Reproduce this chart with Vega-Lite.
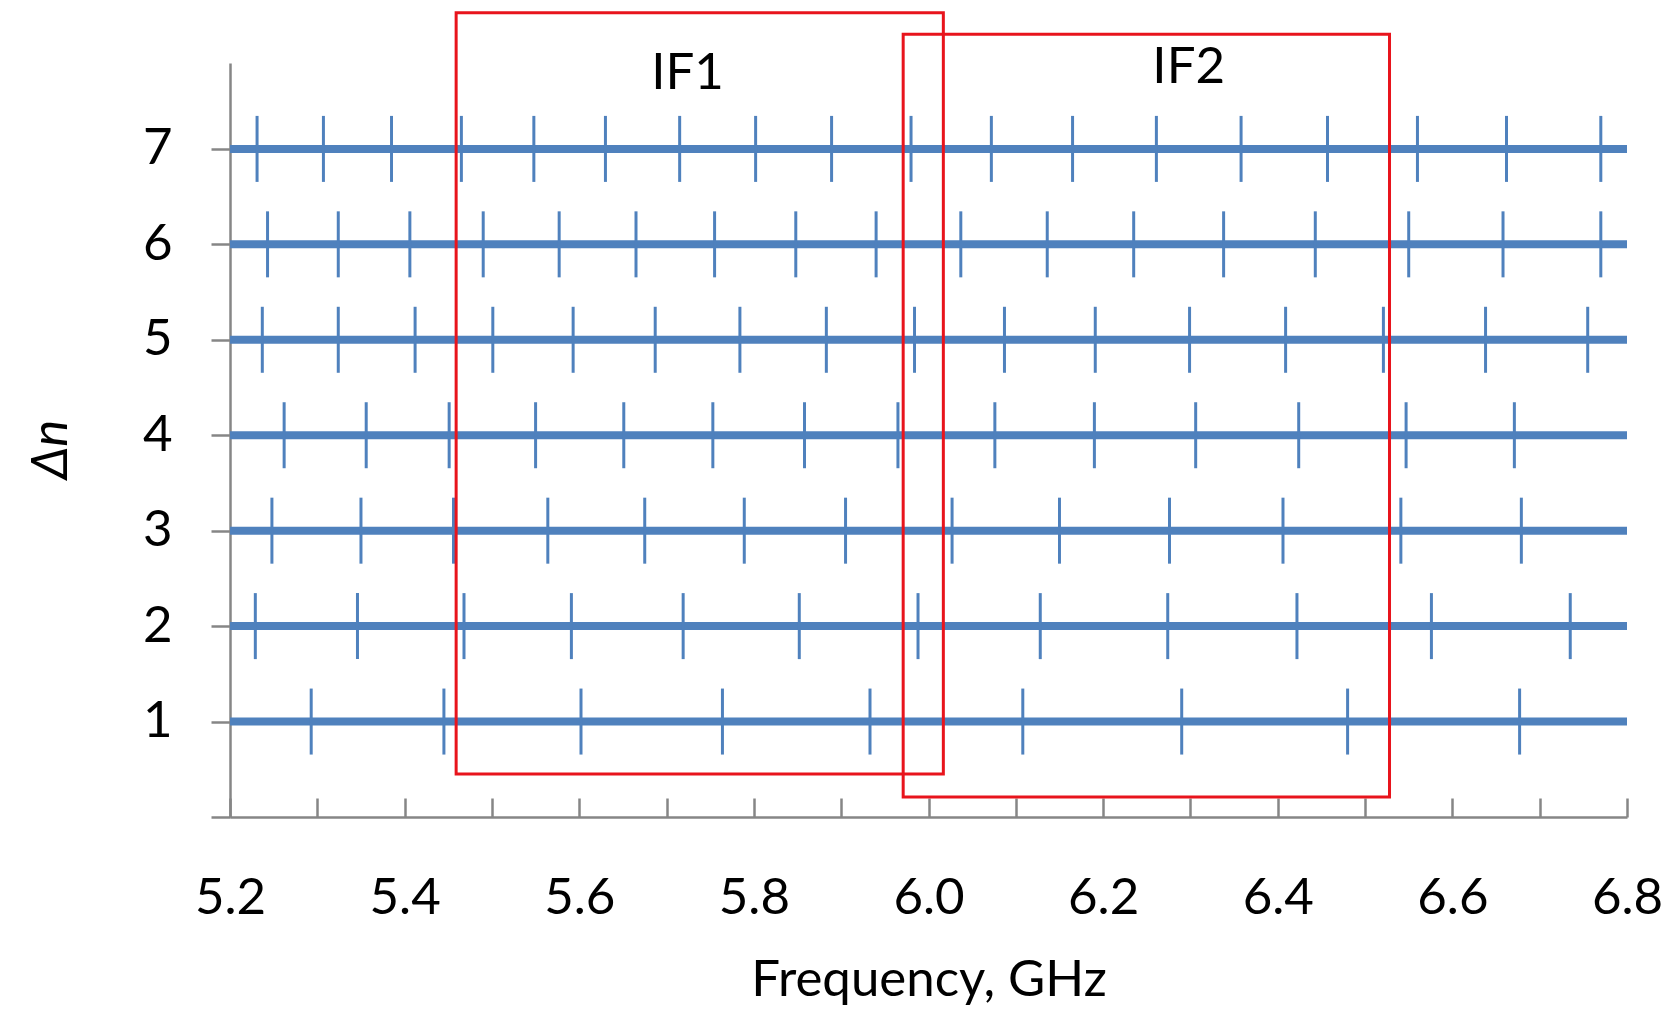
{
  "$schema": "https://vega.github.io/schema/vega-lite/v6.json",
  "width": 1397,
  "height": 754,
  "autosize": {"type": "none"},
  "padding": {"left": 230, "top": 63, "right": 48, "bottom": 198},
  "background": "white",
  "config": {
    "view": {"stroke": null},
    "font": "Lato",
    "axis": {
      "grid": false,
      "domainColor": "#868686",
      "domainWidth": 2.5,
      "tickColor": "#868686",
      "tickWidth": 2.5,
      "labelFont": "Lato",
      "labelFontSize": 51,
      "labelColor": "#000000",
      "titleFont": "Lato",
      "titleFontSize": 51,
      "titleFontWeight": "normal",
      "titleColor": "#000000"
    }
  },
  "datasets": {
    "rows": [
      {"dn": 1}, {"dn": 2}, {"dn": 3}, {"dn": 4}, {"dn": 5}, {"dn": 6}, {"dn": 7}
    ],
    "marks": [
      {"dn": 7, "f": 5.231}, {"dn": 7, "f": 5.307}, {"dn": 7, "f": 5.385}, {"dn": 7, "f": 5.465}, {"dn": 7, "f": 5.548}, {"dn": 7, "f": 5.630}, {"dn": 7, "f": 5.715}, {"dn": 7, "f": 5.802}, {"dn": 7, "f": 5.889}, {"dn": 7, "f": 5.980}, {"dn": 7, "f": 6.072}, {"dn": 7, "f": 6.165}, {"dn": 7, "f": 6.261}, {"dn": 7, "f": 6.358}, {"dn": 7, "f": 6.457}, {"dn": 7, "f": 6.560}, {"dn": 7, "f": 6.662}, {"dn": 7, "f": 6.770},
      {"dn": 6, "f": 5.243}, {"dn": 6, "f": 5.324}, {"dn": 6, "f": 5.406}, {"dn": 6, "f": 5.490}, {"dn": 6, "f": 5.577}, {"dn": 6, "f": 5.665}, {"dn": 6, "f": 5.755}, {"dn": 6, "f": 5.848}, {"dn": 6, "f": 5.940}, {"dn": 6, "f": 6.037}, {"dn": 6, "f": 6.136}, {"dn": 6, "f": 6.235}, {"dn": 6, "f": 6.338}, {"dn": 6, "f": 6.443}, {"dn": 6, "f": 6.550}, {"dn": 6, "f": 6.658}, {"dn": 6, "f": 6.770},
      {"dn": 5, "f": 5.237}, {"dn": 5, "f": 5.324}, {"dn": 5, "f": 5.412}, {"dn": 5, "f": 5.501}, {"dn": 5, "f": 5.593}, {"dn": 5, "f": 5.687}, {"dn": 5, "f": 5.784}, {"dn": 5, "f": 5.883}, {"dn": 5, "f": 5.984}, {"dn": 5, "f": 6.087}, {"dn": 5, "f": 6.191}, {"dn": 5, "f": 6.299}, {"dn": 5, "f": 6.409}, {"dn": 5, "f": 6.521}, {"dn": 5, "f": 6.638}, {"dn": 5, "f": 6.755},
      {"dn": 4, "f": 5.262}, {"dn": 4, "f": 5.356}, {"dn": 4, "f": 5.451}, {"dn": 4, "f": 5.550}, {"dn": 4, "f": 5.651}, {"dn": 4, "f": 5.753}, {"dn": 4, "f": 5.858}, {"dn": 4, "f": 5.965}, {"dn": 4, "f": 6.076}, {"dn": 4, "f": 6.190}, {"dn": 4, "f": 6.306}, {"dn": 4, "f": 6.424}, {"dn": 4, "f": 6.547}, {"dn": 4, "f": 6.671},
      {"dn": 3, "f": 5.248}, {"dn": 3, "f": 5.350}, {"dn": 3, "f": 5.456}, {"dn": 3, "f": 5.564}, {"dn": 3, "f": 5.675}, {"dn": 3, "f": 5.789}, {"dn": 3, "f": 5.905}, {"dn": 3, "f": 6.027}, {"dn": 3, "f": 6.150}, {"dn": 3, "f": 6.276}, {"dn": 3, "f": 6.406}, {"dn": 3, "f": 6.541}, {"dn": 3, "f": 6.679},
      {"dn": 2, "f": 5.229}, {"dn": 2, "f": 5.346}, {"dn": 2, "f": 5.468}, {"dn": 2, "f": 5.591}, {"dn": 2, "f": 5.719}, {"dn": 2, "f": 5.852}, {"dn": 2, "f": 5.988}, {"dn": 2, "f": 6.128}, {"dn": 2, "f": 6.274}, {"dn": 2, "f": 6.422}, {"dn": 2, "f": 6.576}, {"dn": 2, "f": 6.735},
      {"dn": 1, "f": 5.293}, {"dn": 1, "f": 5.445}, {"dn": 1, "f": 5.602}, {"dn": 1, "f": 5.764}, {"dn": 1, "f": 5.933}, {"dn": 1, "f": 6.108}, {"dn": 1, "f": 6.290}, {"dn": 1, "f": 6.480}, {"dn": 1, "f": 6.677}
    ],
    "boxes": [
      {"name": "IF1", "f1": 5.459, "f2": 6.017, "y1": 0.45, "y2": 8.427, "lx": 5.724, "ly": 7.631},
      {"name": "IF2", "f1": 5.971, "f2": 6.528, "y1": 0.21, "y2": 8.201, "lx": 6.298, "ly": 7.694}
    ]
  },
  "layer": [
    {
      "data": {"name": "rows"},
      "mark": {"type": "rule", "color": "#4F81BD", "strokeWidth": 8, "strokeCap": "butt"},
      "encoding": {
        "y": {
          "field": "dn",
          "type": "quantitative",
          "scale": {"domain": [0, 7.9], "nice": false, "zero": true},
          "axis": {
            "values": [0, 1, 2, 3, 4, 5, 6, 7],
            "labelExpr": "datum.value == 0 ? '' : format(datum.value, 'd')",
            "tickSize": 19,
            "labelPadding": 39,
            "title": "Δn",
            "titleFontStyle": "italic",
            "titleBaseline": "alphabetic",
            "titleAlign": "center",
            "titleAngle": -90,
            "titleX": -164,
            "titleY": 386
          }
        }
      }
    },
    {
      "data": {"name": "marks"},
      "mark": {"type": "tick", "orient": "vertical", "color": "#4F81BD", "size": 66, "thickness": 3, "opacity": 1},
      "encoding": {
        "x": {
          "field": "f",
          "type": "quantitative",
          "scale": {"domain": [5.2, 6.8], "nice": false, "zero": false},
          "axis": {
            "values": [5.2, 5.3, 5.4, 5.5, 5.6, 5.7, 5.8, 5.9, 6.0, 6.1, 6.2, 6.3, 6.4, 6.5, 6.6, 6.7, 6.8],
            "labelExpr": "round(datum.value * 10) % 2 == 0 ? format(datum.value, '.1f') : ''",
            "tickSize": -19,
            "labelPadding": 115,
            "labelBaseline": "alphabetic",
            "labelFlush": false,
            "labelOverlap": false,
            "title": "Frequency, GHz",
            "titleBaseline": "alphabetic",
            "titleY": 178
          }
        },
        "y": {"field": "dn", "type": "quantitative"}
      }
    },
    {
      "data": {"name": "boxes"},
      "mark": {"type": "rect", "fill": null, "fillOpacity": 0, "stroke": "#E8141C", "strokeWidth": 3},
      "encoding": {
        "x": {"field": "f1", "type": "quantitative"},
        "x2": {"field": "f2"},
        "y": {"field": "y1", "type": "quantitative"},
        "y2": {"field": "y2"}
      }
    },
    {
      "data": {"name": "boxes"},
      "mark": {"type": "text", "font": "Lato", "fontSize": 51, "color": "#000000", "align": "center", "baseline": "alphabetic"},
      "encoding": {
        "x": {"field": "lx", "type": "quantitative"},
        "y": {"field": "ly", "type": "quantitative"},
        "text": {"field": "name"}
      }
    }
  ]
}
